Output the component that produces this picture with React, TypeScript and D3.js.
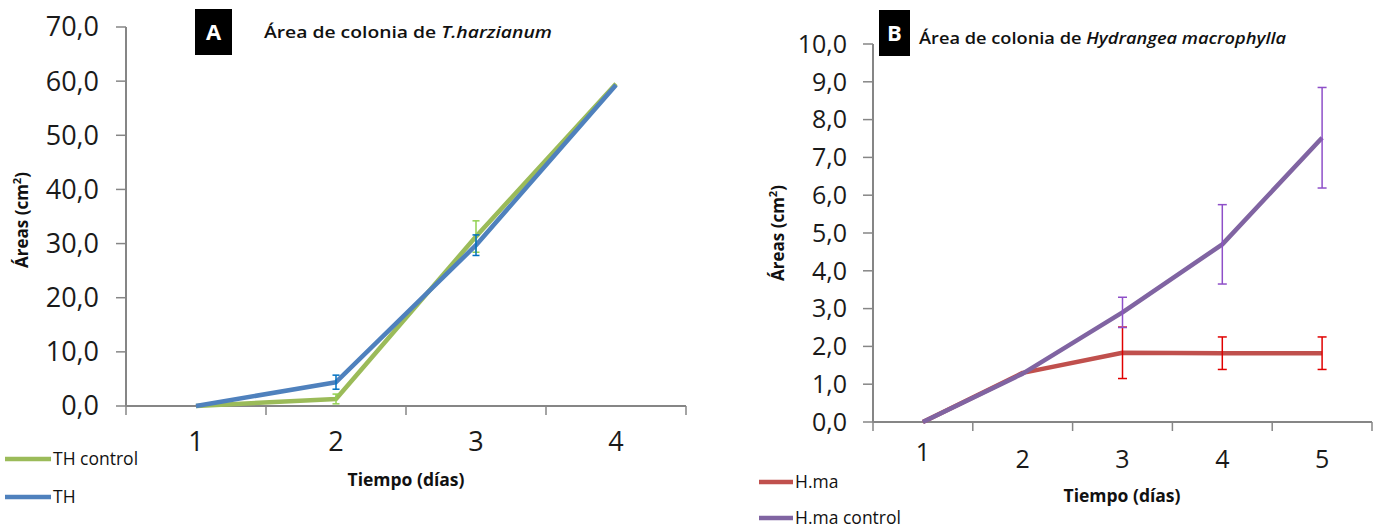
import React from "react";
import * as d3 from "d3";

// Panel A data
const daysA = ["1", "2", "3", "4"];
const thControl = [0, 1.3, 31.3, 59.5];
const thControlErr = [0, 0.9, 2.9, 0];
const th = [0, 4.4, 29.7, 59.3];
const thErr = [0, 1.3, 1.9, 0];
const ticksA = [0, 10, 20, 30, 40, 50, 60, 70];

// Panel B data
const daysB = ["1", "2", "3", "4", "5"];
const hma = [0, 1.3, 1.83, 1.82, 1.82];
const hmaErr = [0, 0, 0.68, 0.43, 0.43];
const hmaControl = [0, 1.28, 2.9, 4.7, 7.52];
const hmaControlErr = [0, 0, 0.4, 1.05, 1.33];
const ticksB = [0, 1, 2, 3, 4, 5, 6, 7, 8, 9, 10];

const FONT = "'Open Sans', sans-serif";
const AXIS = "#868686";

type Series = { name: string; values: number[]; err: number[]; color: string; errColor: string };

function Panel(props: {
  cats: string[];
  series: Series[];
  ticks: number[];
  yMax: number;
  x0: number; x1: number; y0: number; y1: number;
  tickFont: number;
  labelGap: number;
  catLabelY: number;
  catOffsets?: number[];
  capW: number;
  title: string; titleItalic: string; titleLen: number; letter: string;
  boxX: number; boxY: number; boxW: number; boxH: number;
  titleX: number; titleY: number;
  xTitleX: number; xTitleY: number;
  yTitleX: number; yTitleY: number;
  legendX: number; legendY: number[]; legendLen: number;
}) {
  const p = props;
  const x = d3.scaleBand<string>().domain(p.cats).range([p.x0, p.x1]).padding(0);
  const y = d3.scaleLinear().domain([0, p.yMax]).range([p.y0, p.y1]);
  const cx = (i: number) => (x(p.cats[i]) as number) + x.bandwidth() / 2;
  const line = d3.line<number>().x((_, i) => cx(i)).y((d) => y(d));
  const fmt = (v: number) => v.toFixed(1).replace(".", ",");
  return (
    <g>
      <line x1={p.x0} x2={p.x0} y1={p.y1} y2={p.y0} stroke={AXIS} strokeWidth={2} />
      <line x1={p.x0} x2={p.x1} y1={p.y0} y2={p.y0} stroke={AXIS} strokeWidth={2} />
      {p.ticks.map((t) => (
        <g key={t}>
          <line x1={p.x0 - 10} x2={p.x0} y1={y(t)} y2={y(t)} stroke={AXIS} strokeWidth={1.5} />
          <text x={p.x0 - p.labelGap} y={y(t)} dy="0.35em" textAnchor="end" fontFamily={FONT} fontSize={p.tickFont} fill="#1a1a1a">
            {fmt(t)}
          </text>
        </g>
      ))}
      {[...p.cats.map((c) => x(c) as number), p.x1].map((tx, i) => (
        <line key={i} x1={tx} x2={tx} y1={p.y0} y2={p.y0 + 9} stroke={AXIS} strokeWidth={1.5} />
      ))}
      {p.cats.map((c, i) => (
        <text key={c} x={cx(i)} y={p.catLabelY + (p.catOffsets ? p.catOffsets[i] : 0)} dy="0.35em" textAnchor="middle" fontFamily={FONT} fontSize={p.tickFont} fill="#1a1a1a">
          {c}
        </text>
      ))}
      {p.series.map((s) => (
        <g key={s.name}>
          <path d={line(s.values) as string} fill="none" stroke={s.color} strokeWidth={4.5} strokeLinejoin="round" />
          {s.values.map((v, i) =>
            s.err[i] > 0 ? (
              <g key={i} stroke={s.errColor} strokeWidth={1.5}>
                <line x1={cx(i)} x2={cx(i)} y1={y(v - s.err[i])} y2={y(v + s.err[i])} />
                <line x1={cx(i) - p.capW / 2} x2={cx(i) + p.capW / 2} y1={y(v - s.err[i])} y2={y(v - s.err[i])} />
                <line x1={cx(i) - p.capW / 2} x2={cx(i) + p.capW / 2} y1={y(v + s.err[i])} y2={y(v + s.err[i])} />
              </g>
            ) : null
          )}
        </g>
      ))}
      <rect x={p.boxX} y={p.boxY} width={p.boxW} height={p.boxH} fill="#000" />
      <text x={p.boxX + p.boxW / 2} y={p.boxY + p.boxH / 2} dy="0.36em" textAnchor="middle" fontFamily={FONT} fontWeight={700} fontSize={22} fill="#fff">
        {p.letter}
      </text>
      <text x={p.titleX} y={p.titleY} dy="0.35em" fontFamily={FONT} fontWeight={600} fontSize={16.5} fill="#111" textLength={p.titleLen} lengthAdjust="spacingAndGlyphs">
        {p.title}
        <tspan fontStyle="italic">{p.titleItalic}</tspan>
      </text>
      <text x={p.xTitleX} y={p.xTitleY} dy="0.35em" textAnchor="middle" fontFamily={FONT} fontWeight={700} fontSize={17.5} fill="#111">
        Tiempo (días)
      </text>
      <text transform={`translate(${p.yTitleX},${p.yTitleY}) rotate(-90)`} dy="0.35em" textAnchor="middle" fontFamily={FONT} fontWeight={700} fontSize={17} fill="#111">
        Áreas (cm<tspan dy="-7" fontSize={11}>2</tspan><tspan dy="7">)</tspan>
      </text>
      {p.series.map((s, i) => (
        <g key={s.name}>
          <line x1={p.legendX} x2={p.legendX + p.legendLen} y1={p.legendY[i]} y2={p.legendY[i]} stroke={s.color} strokeWidth={4.5} />
          <text x={p.legendX + p.legendLen + 2} y={p.legendY[i]} dy="0.35em" fontFamily={FONT} fontSize={17.5} fill="#111">
            {s.name}
          </text>
        </g>
      ))}
    </g>
  );
}

export default function App() {
  const seriesA: Series[] = [
    { name: "TH control", values: thControl, err: thControlErr, color: "#9BBB59", errColor: "#92D050" },
    { name: "TH", values: th, err: thErr, color: "#4F81BD", errColor: "#0070C0" },
  ];
  const seriesB: Series[] = [
    { name: "H.ma", values: hma, err: hmaErr, color: "#C0504D", errColor: "#E00000" },
    { name: "H.ma control", values: hmaControl, err: hmaControlErr, color: "#8064A2", errColor: "#8E4FC8" },
  ];
  return (
    <svg width={1380} height={529} style={{ position: "absolute", left: 0, top: 0, background: "#fff" }}>
      <rect width={1380} height={529} fill="#fff" />
      <Panel
        cats={daysA} series={seriesA} ticks={ticksA} yMax={70}
        x0={126} x1={686} y0={406} y1={27}
        tickFont={27} labelGap={27} catLabelY={442} capW={7}
        title="Área de colonia de " titleItalic="T.harzianum" titleLen={288} letter="A"
        boxX={195} boxY={9} boxW={37} boxH={46}
        titleX={264} titleY={32}
        xTitleX={406} xTitleY={480}
        yTitleX={22} yTitleY={220}
        legendX={5} legendY={[459, 497]} legendLen={46}
      />
      <Panel
        cats={daysB} series={seriesB} ticks={ticksB} yMax={10}
        x0={873} x1={1372} y0={422} y1={44}
        tickFont={25} labelGap={26} catLabelY={459} catOffsets={[-7, 0, 0, 0, 0]} capW={9}
        title="Área de colonia de  " titleItalic="Hydrangea macrophylla" titleLen={367} letter="B"
        boxX={879} boxY={10} boxW={31} boxH={46}
        titleX={919} titleY={38}
        xTitleX={1122} xTitleY={496}
        yTitleX={778} yTitleY={233}
        legendX={759} legendY={[482, 518]} legendLen={34}
      />
    </svg>
  );
}
